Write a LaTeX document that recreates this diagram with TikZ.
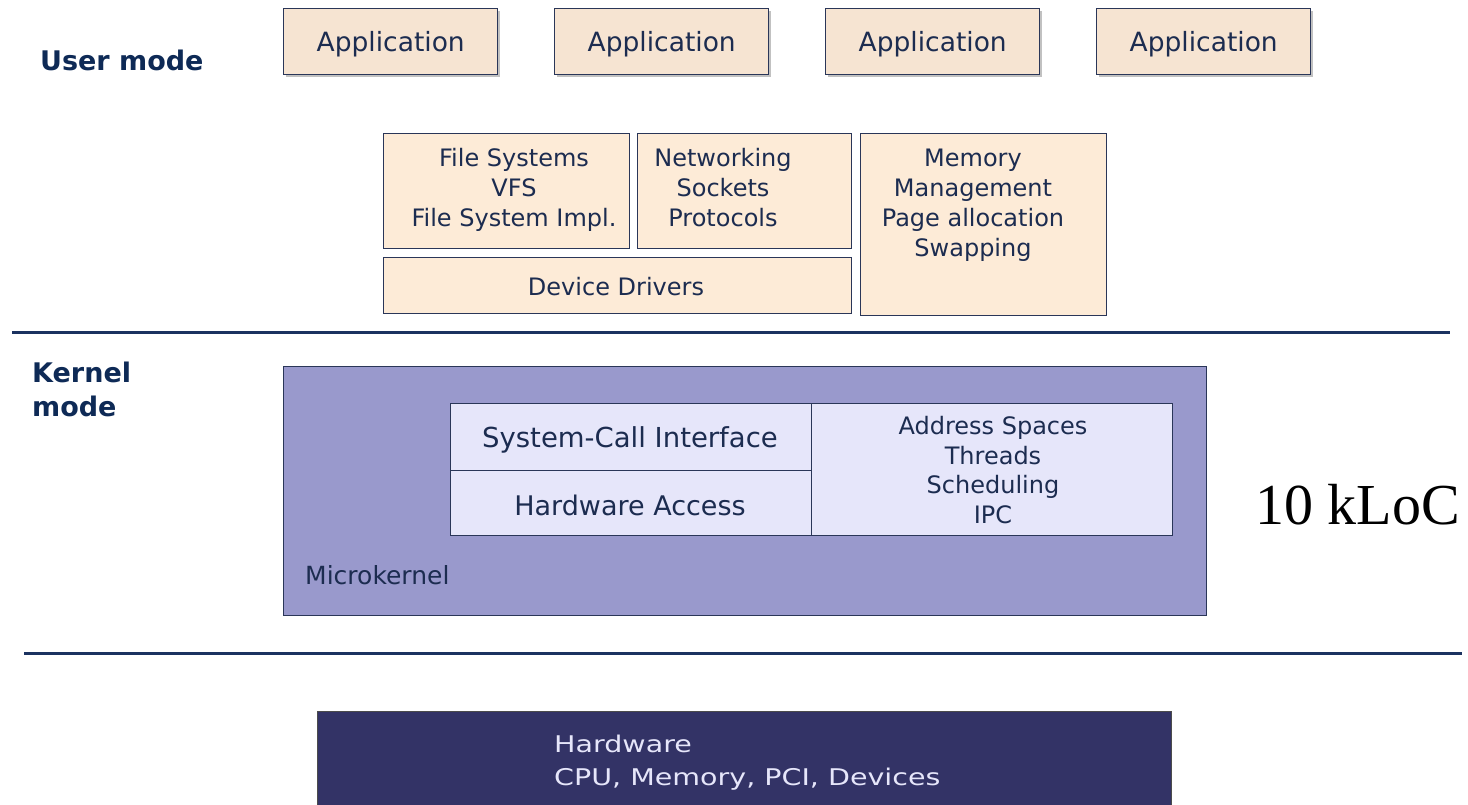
\documentclass[tikz,border=0pt]{standalone}
\usepackage{fontspec}
\setmainfont{DejaVu Sans}
\newfontfamily\hwfont[FakeStretch=1.24]{DejaVu Sans}
\newfontfamily\seriffont{Liberation Serif}
\usetikzlibrary{shadows}
\definecolor{appfill}{HTML}{F6E4D2}
\definecolor{kfill}{HTML}{FDEBD7}
\definecolor{mkfill}{HTML}{9999CC}
\definecolor{innerfill}{HTML}{E6E6FA}
\definecolor{hwfill}{HTML}{333366}
\definecolor{txt}{HTML}{1C2C50}
\definecolor{titlecol}{HTML}{0E2A56}
\definecolor{bordercol}{HTML}{2A3658}
\definecolor{linecol}{HTML}{1B3260}
\begin{document}
\begin{tikzpicture}[x=1pt,y=1pt,
  appbox/.style={draw=bordercol, line width=1.4pt, fill=appfill, minimum width=214pt, minimum height=66pt,
    anchor=north west, inner sep=0pt, text=txt, font=\fontsize{26.5}{30}\selectfont, text depth=0pt,
    drop shadow={shadow xshift=2.5pt, shadow yshift=-2.5pt, fill=black!30, opacity=0.8}},
  kbox/.style={draw=bordercol, line width=1.4pt, fill=kfill, anchor=north west, inner sep=0pt},
  ibox/.style={draw=bordercol, line width=1.4pt, fill=innerfill, anchor=north west, inner sep=0pt},
  ktext/.style={text=txt, align=center, inner sep=0pt, font=\fontsize{24}{30}\selectfont},
  title/.style={text=titlecol, align=left, anchor=west, inner sep=0pt, font=\bfseries\fontsize{27}{34}\selectfont},
  divider/.style={draw=linecol, line width=3pt}
]
\useasboundingbox (0,0) rectangle (1468,-805);

% titles
\node[title] (usermode) at (40,-60) {User mode};
\node[title] (kernelmode) at (32,-389) {Kernel\\mode};

% applications
\node[appbox] (app1) at (283,-8) {Application};
\node[appbox] (app2) at (554,-8) {Application};
\node[appbox] (app3) at (825,-8) {Application};
\node[appbox] (app4) at (1096,-8) {Application};

% user-level servers
\node[kbox, minimum width=246pt, minimum height=115pt] (fs) at (383,-133) {};
\node[ktext] (fstext) at (514,-190) {File Systems\\VFS\\File System Impl.};
\node[kbox, minimum width=214pt, minimum height=115pt] (net) at (637,-133) {};
\node[ktext] (nettext) at (723,-188) {Networking\\Sockets\\Protocols};
\node[kbox, minimum width=468pt, minimum height=56pt] (dd) at (383,-257) {};
\node[ktext] (ddtext) at (616,-287) {Device Drivers};
\node[kbox, minimum width=246pt, minimum height=182pt] (mem) at (860,-133) {};
\node[ktext] (memtext) at (973,-205) {Memory\\Management\\Page allocation\\Swapping};

% dividers
\coordinate (d1a) at (12,-332);
\coordinate (d1b) at (1450,-332);
\draw[divider] (d1a) -- (d1b);
\coordinate (d2a) at (24,-653);
\coordinate (d2b) at (1462,-653);
\draw[divider] (d2a) -- (d2b);

% microkernel
\node[draw=bordercol, line width=1.4pt, fill=mkfill, anchor=north west, inner sep=0pt,
  minimum width=923pt, minimum height=249pt] (mk) at (283,-366) {};
\node[text=txt, anchor=west, inner sep=0pt, font=\fontsize{25}{30}\selectfont] (mklabel) at (305,-575) {Microkernel};
\node[ibox, minimum width=361pt, minimum height=67pt] (sci) at (450,-403) {};
\node[text=txt, inner sep=0pt, font=\fontsize{27.5}{30}\selectfont] (scitext) at (630,-440) {System-Call Interface};
\node[ibox, minimum width=361pt, minimum height=65pt] (hwa) at (450,-470) {};
\node[text=txt, inner sep=0pt, font=\fontsize{27}{30}\selectfont] (hwatext) at (630,-505) {Hardware Access};
\node[ibox, minimum width=361pt, minimum height=132pt] (asp) at (811,-403) {};
\node[ktext, font=\fontsize{24}{29.7}\selectfont] (asptext) at (993,-470) {Address Spaces\\Threads\\Scheduling\\IPC};

% loc
\node[anchor=west, inner sep=0pt, font=\seriffont\fontsize{58}{60}\selectfont] (loc) at (1255,-505) {10 kLoC};

% hardware
\node[draw=black!70, line width=1pt, fill=hwfill, anchor=north west, inner sep=0pt,
  minimum width=854pt, minimum height=110pt] (hw) at (317,-711) {};
\node[text=innerfill, align=left, anchor=west, inner sep=0pt, font=\hwfont\fontsize{23}{33}\selectfont] (hwtext) at (554,-763) {Hardware\\CPU, Memory, PCI, Devices};
\end{tikzpicture}
\end{document}
